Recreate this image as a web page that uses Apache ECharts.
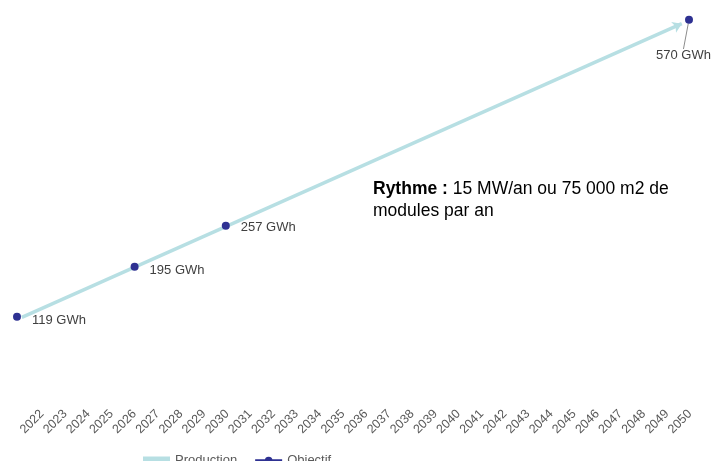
<!DOCTYPE html>
<html>
<head>
<meta charset="utf-8">
<script src="https://cdn.jsdelivr.net/npm/echarts@6/dist/echarts.min.js"></script>
<style>
html,body{margin:0;padding:0;background:#fff;}
#c{width:713px;height:461px;}
</style>
</head>
<body>
<div id="c"></div>
<script>
var years = [];
for (var y = 2022; y <= 2050; y++) years.push(String(y));
var productionX = [2022.2, 2049.7];
var productionY = [118, 564];
var objectifX = [2022, 2026.9, 2030.7, 2050];
var objectifY = [119, 195, 257, 570];
var noteBold = 'Rythme :';
var noteText = ' 15 MW/an ou 75 000 m2 de';
var noteText2 = 'modules par an';

var FONT = '"Liberation Sans", Arial, sans-serif';
var chart = echarts.init(document.getElementById('c'), null, {renderer: 'canvas'});

var prodData = productionX.map(function (x, i) { return [x, productionY[i]]; });
var objData = objectifX.map(function (x, i) {
  var item = {value: [x, objectifY[i]]};
  if (i === objectifX.length - 1) {
    item.labelLine = {show: true, lineStyle: {color: '#8c8c8c', width: 1}};
  }
  return item;
});

chart.setOption({
  animation: false,
  textStyle: {fontFamily: FONT},
  grid: [
    {left: 42, right: 23, top: 0, height: 402},
    {left: 17, right: 24, top: 0, height: 395}
  ],
  xAxis: [
    {
      gridIndex: 0, type: 'category', data: years, boundaryGap: false,
      axisLine: {show: false}, axisTick: {show: false}, splitLine: {show: false},
      axisLabel: {rotate: 45, interval: 0, margin: 10, color: '#595959', fontSize: 12.5, fontFamily: FONT}
    },
    {
      gridIndex: 1, type: 'value', min: 2022, max: 2050, show: false
    }
  ],
  yAxis: [
    {gridIndex: 0, type: 'value', show: false, min: 0, max: 600},
    {gridIndex: 1, type: 'value', show: false, min: 0, max: 600}
  ],
  legend: {
    top: 449, left: 138, itemGap: 18, itemWidth: 27, itemHeight: 8,
    textStyle: {color: '#595959', fontSize: 13, fontFamily: FONT},
    data: [
      {name: 'Production', icon: 'rect', itemStyle: {color: '#b7dfe3'}},
      {name: 'Objectif', icon: 'path://M0,2.7L28,2.7L28,5.3L0,5.3Z M10,4A4,4 0 1,1 18,4A4,4 0 1,1 10,4Z',
        itemStyle: {color: '#2e3192'}}
    ]
  },
  series: [
    {
      name: 'Production', type: 'line', xAxisIndex: 1, yAxisIndex: 1,
      data: prodData,
      symbol: function (v, p) { return p.dataIndex === prodData.length - 1 ? 'arrow' : 'none'; },
      symbolSize: 9,
      symbolRotate: -66,
      itemStyle: {color: '#b7dfe3'},
      lineStyle: {color: '#b7dfe3', width: 3.5},
      z: 1
    },
    {
      name: 'Objectif', type: 'line', xAxisIndex: 1, yAxisIndex: 1,
      data: objData,
      symbol: 'circle', symbolSize: 8,
      itemStyle: {color: '#2e3192'},
      lineStyle: {width: 0, opacity: 0, color: '#2e3192'},
      label: {
        show: true, position: 'right', distance: 11,
        color: '#404040', fontSize: 13, fontFamily: FONT,
        formatter: function (p) { return p.value[1] + ' GWh'; }
      },
      labelLine: {show: false},
      labelLayout: function (p) {
        if (p.dataIndex === objData.length - 1) {
          return {x: 656, y: 49, align: 'left', verticalAlign: 'top'};
        }
        if (p.dataIndex === 2) return {dy: 2};
        return {dy: 4};
      },
      z: 3
    }
  ],
  graphic: [
    {
      type: 'text', left: 373, top: 178,
      style: {
        text: '{b|' + noteBold + '}' + noteText + '\n' + noteText2,
        font: '17.5px ' + FONT,
        fill: '#000',
        lineHeight: 22,
        rich: {b: {fontWeight: 'bold', fontSize: 17.5, fontFamily: FONT, fill: '#000', lineHeight: 22}}
      }
    }
  ]
});
</script>
</body>
</html>
